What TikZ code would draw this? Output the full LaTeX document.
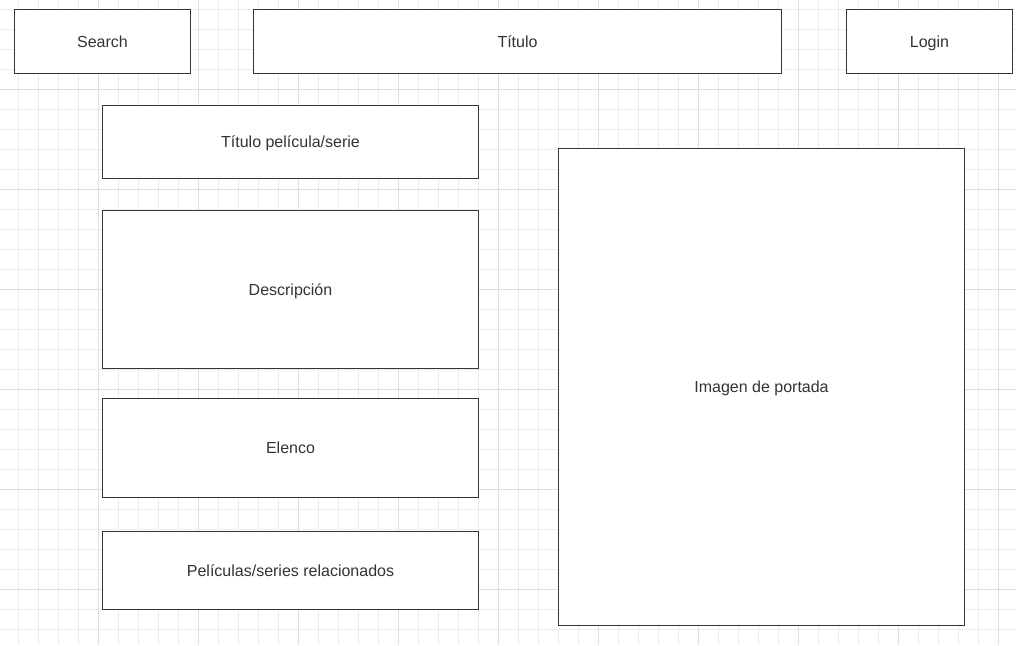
\documentclass[tikz,border=0pt]{standalone}
\usepackage{fontspec}
\setmainfont{Liberation Sans}
\usepackage{xcolor}
\definecolor{boxline}{RGB}{54,54,54}
\definecolor{boxtext}{RGB}{51,51,51}
\definecolor{gridminor}{RGB}{236,236,236}
\definecolor{gridmajor}{RGB}{222,222,222}
\usepackage{tikz}
\newcommand{\widthcolumn}{376pt}
\tikzset{
    panel/.style={anchor=north west, draw=boxline, fill=white, line width=1pt, rectangle,
        inner sep=0pt, text=boxtext, font=\fontsize{16}{19}\selectfont,
        text height=14pt, text depth=2.5pt},
    minorline/.style={gridminor, line width=1pt},
    majorline/.style={gridmajor, line width=1pt}
}

\begin{document}
\begin{tikzpicture}[x=1pt, y=-1pt]
    \useasboundingbox[fill=white] (0,0) rectangle (1016,645);

    % grid
    \foreach \x in {18,38,...,998}
        \draw[minorline] (\x,0) -- (\x,645);
    \foreach \y in {9,29,...,629}
        \draw[minorline] (0,\y) -- (1016,\y);
    \foreach \x in {98,198,...,998}
        \draw[majorline] (\x,0) -- (\x,645);
    \foreach \y in {89,189,...,589}
        \draw[majorline] (0,\y) -- (1016,\y);

    % header
    \node[panel, minimum width=176pt, minimum height=64pt] (search) at (14,9) {Search};
    \node[panel, minimum width=528pt, minimum height=64pt] (title) at (253,9) {Título};
    \node[panel, minimum width=166pt, minimum height=64pt] (login) at (846,9) {Login};

    % left column
    \node[panel, minimum width=\widthcolumn, minimum height=73pt] (movie-title) at (102,105) {Título película/serie};
    \node[panel, minimum width=\widthcolumn, minimum height=158pt] (description) at (102,210) {Descripción};
    \node[panel, minimum width=\widthcolumn, minimum height=99pt] (cast) at (102,398) {Elenco};
    \node[panel, minimum width=\widthcolumn, minimum height=78pt] (related) at (102,531) {Películas/series relacionados};

    % cover
    \node[panel, minimum width=406pt, minimum height=477pt] (cover) at (558,148) {Imagen de portada};
\end{tikzpicture}
\end{document}
